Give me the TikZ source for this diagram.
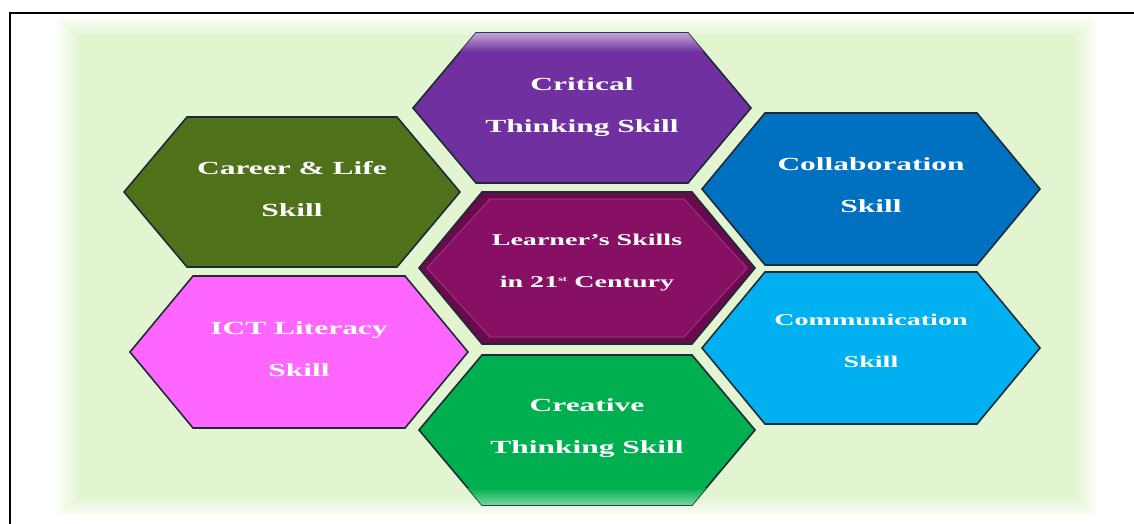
\documentclass[tikz,border=0pt]{standalone}
\usepackage{fontspec}
\usepackage{tikz}
\usetikzlibrary{calc}
\newfontfamily\skillfont[FakeStretch=1.7]{Liberation Serif}

\definecolor{bgreen}{RGB}{226,244,208}
\definecolor{hexedge}{RGB}{28,42,56}
\definecolor{critical}{RGB}{112,48,160}
\definecolor{career}{RGB}{79,113,26}
\definecolor{collab}{RGB}{0,112,192}
\definecolor{learner}{RGB}{135,16,100}
\definecolor{learnerdark}{RGB}{105,10,76}
\definecolor{ict}{RGB}{255,102,255}
\definecolor{commun}{RGB}{0,176,240}
\definecolor{creative}{RGB}{0,176,80}

\tikzset{
  hexline/.style={draw=hexedge, line width=1.6pt},
  skilltext/.style={text=white, align=center,
    font=\skillfont\bfseries\fontsize{18.5}{42}\selectfont},
  smalltext/.style={skilltext,
    font=\skillfont\bfseries\fontsize{16.5}{42}\selectfont},
}
% hexagon: centre x, centre y, half width, half height
\newcommand{\hexat}[4]{(#1-#3,#2) -- (#1-#3+63,#2-#4) -- (#1+#3-63,#2-#4)
  -- (#1+#3,#2) -- (#1+#3-63,#2+#4) -- (#1-#3+63,#2+#4) -- cycle}

\begin{document}
\begin{tikzpicture}[x=1pt,y=-1pt]
  \useasboundingbox (0,0) rectangle (1134,524);
  % background, soft edges
  \foreach \i in {0,...,7}
    \fill[bgreen!\the\numexpr 20+\i*11\relax] (58+3*\i,18+2.5*\i) rectangle (1096-3*\i,516-2.5*\i);
  \draw[line width=1.5pt] (10,524) -- (10,13) -- (1134,13);

  \fill[critical, hexline] \hexat{582}{108}{169}{75};
  \begin{scope}
    \clip \hexat{582}{108}{169}{75};
    \shade[top color=critical!35!white, bottom color=critical] (400,30) rectangle (760,52);
  \end{scope}
  \fill[career, hexline] \hexat{292}{192}{168}{75};
  \fill[collab, hexline] \hexat{871}{189}{169}{76};
  \fill[ict, hexline] \hexat{299}{352}{169}{76};
  \fill[commun, hexline] \hexat{871}{348}{169}{76};
  \fill[creative, hexline] \hexat{587}{430}{168}{75};
  \begin{scope}
    \clip \hexat{587}{430}{168}{75};
    \shade[top color=creative, bottom color=creative!45!white] (400,488) rectangle (760,508);
  \end{scope}
  % centre hexagon with bevel
  \fill[learnerdark, hexline] \hexat{587}{268}{168}{76};
  \fill[learner, draw=learner!85!white, line width=1pt] \hexat{587}{268}{160}{69};

  \node[skilltext] (crit) at (582,107) {Critical\\Thinking Skill};
  \node[skilltext] (care) at (292,189) {Career \& Life\\Skill};
  \node[skilltext] (coll) at (871,185) {Collaboration\\Skill};
  \node[smalltext] (lern) at (587,263) {Learner’s Skills\\in 21\textsuperscript{\scriptsize st} Century};
  \node[skilltext] (ictl) at (299,349) {ICT Literacy\\Skill};
  \node[smalltext] (comm) at (871,341) {Communication\\Skill};
  \node[skilltext] (crea) at (587,428) {Creative\\Thinking Skill};
\end{tikzpicture}
\end{document}
